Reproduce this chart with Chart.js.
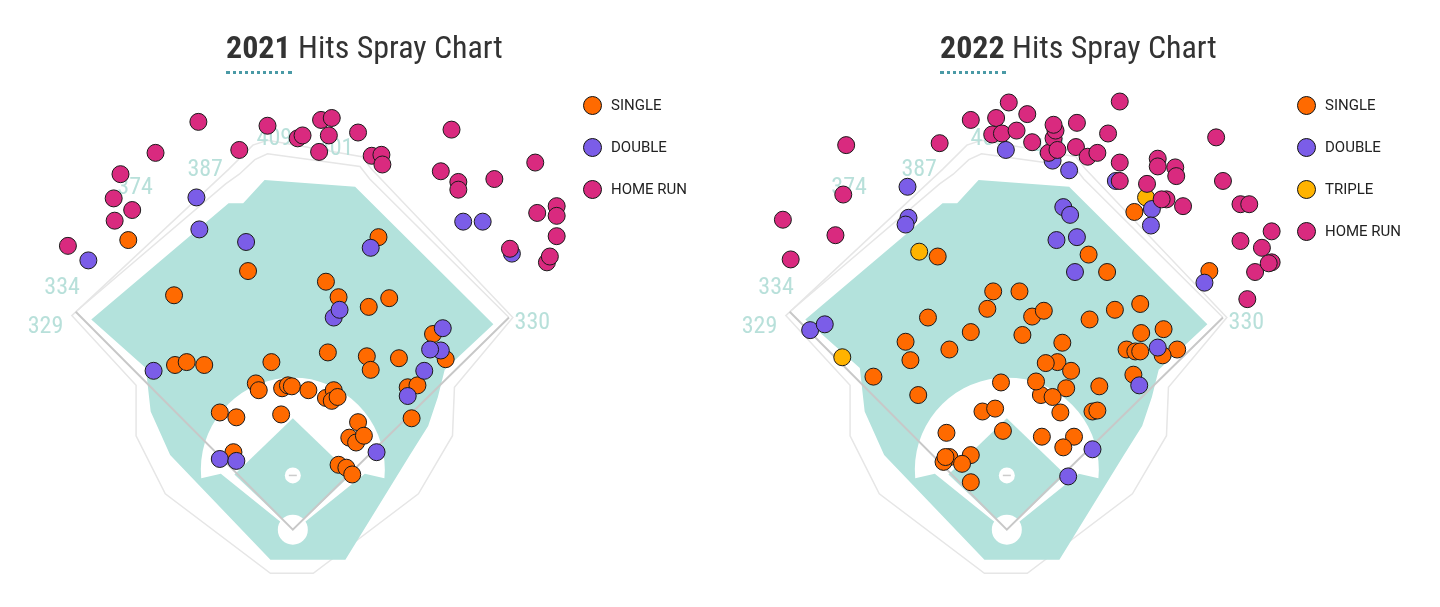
<!DOCTYPE html>
<html><head><meta charset="utf-8">
<script src="https://cdn.jsdelivr.net/npm/chart.js@4"></script>
<style>
body{margin:0;background:#fff;width:1440px;height:607px;position:relative;overflow:hidden;font-family:Roboto,sans-serif}
canvas{position:absolute;top:0}
.title{position:absolute;top:28px;font-family:"Roboto Condensed",Roboto,sans-serif;font-size:32px;color:#333;letter-spacing:0px}
.title b{font-weight:700}
.dots{position:absolute;top:71px;width:66px;border-top:3px dotted #4a9aa6}
.legend{position:absolute;font-size:15px;color:#222}
.legend div{height:42px;display:flex;align-items:center}
.legend span{display:inline-block;width:17px;height:17px;border-radius:50%;border:1px solid #111;margin-right:9px}
</style></head><body>
<canvas id="c21" width="720" height="607" style="left:0"></canvas>
<canvas id="c22" width="720" height="607" style="left:714px"></canvas>
<div class="title" style="left:226px"><b>2021</b> Hits Spray Chart</div>
<div class="dots" style="left:226px"></div>
<div class="title" style="left:940px"><b>2022</b> Hits Spray Chart</div>
<div class="dots" style="left:940px"></div>
<div class="legend" style="left:583px;top:84px">
 <div><span style="background:#ff6a00"></span>SINGLE</div>
 <div><span style="background:#7b5de8"></span>DOUBLE</div>
 <div><span style="background:#d92a7f"></span>HOME RUN</div>
</div>
<div class="legend" style="left:1297px;top:84px">
 <div><span style="background:#ff6a00"></span>SINGLE</div>
 <div><span style="background:#7b5de8"></span>DOUBLE</div>
 <div><span style="background:#ffb300"></span>TRIPLE</div>
 <div><span style="background:#d92a7f"></span>HOME RUN</div>
</div>
<script>
// 2021 hits (page pixel coords)
const singles21 = [[122,238],[245,270],[169,295],[379,235],[325,281],[338,297],[369,307],[390,298],[327,354],[367,358],[371,372],[400,360],[435,335],[448,361],[409,390],[419,388],[413,422],[170,367],[182,364],[200,367],[269,364],[253,386],[256,393],[280,391],[286,388],[290,389],[307,393],[325,401],[333,393],[331,404],[337,400],[216,416],[233,421],[279,418],[358,426],[349,442],[356,447],[364,440],[230,457],[338,470],[346,473],[352,480]];
const doubles21 = [[81,259],[192,194],[195,227],[243,240],[371,246],[333,318],[339,310],[445,329],[443,352],[432,351],[426,373],[409,399],[148,373],[216,464],[233,466],[377,457],[466,219],[486,219],[516,252]];
const homers21 = [[60,244],[108,218],[107,195],[126,207],[114,170],[150,148],[194,116],[236,145],[265,120],[296,133],[301,130],[320,114],[331,112],[328,130],[318,147],[358,127],[372,151],[382,150],[383,160],[454,124],[443,167],[461,178],[461,186],[498,175],[540,158],[562,203],[562,213],[542,210],[562,234],[514,247],[552,261],[555,255]];
// 2022 hits
const singles22 = [[934,255],[1136,209],[1089,253],[1108,271],[991,291],[1018,291],[985,309],[1031,317],[1043,311],[1090,320],[1116,310],[1142,304],[924,318],[968,333],[1021,336],[1062,344],[1057,364],[1071,373],[1045,365],[1066,391],[1040,398],[1052,400],[1060,416],[1093,415],[1098,414],[1100,389],[901,343],[946,351],[906,362],[868,379],[999,385],[1035,384],[1143,334],[1128,351],[1137,353],[1142,353],[1166,330],[1180,351],[1165,357],[1135,377],[914,398],[980,415],[993,412],[943,437],[1001,435],[1041,441],[1074,441],[1063,452],[968,460],[946,462],[940,467],[942,462],[959,469],[968,488],[1213,270]];
const doubles22 = [[803,331],[818,325],[903,183],[904,215],[901,222],[1004,145],[1052,156],[1069,166],[1117,177],[1063,204],[1070,212],[1056,238],[1077,235],[1075,271],[1154,206],[1153,223],[1208,282],[1160,349],[1141,388],[1093,454],[1068,482]];
const triples22 = [[836,359],[915,250],[1148,194]];
const homers22 = [[840,140],[936,138],[775,217],[783,258],[829,233],[837,191],[968,114],[994,112],[1007,96],[990,129],[1000,128],[1015,125],[1031,137],[1048,148],[1053,133],[1055,125],[1053,119],[1057,145],[1026,108],[1076,142],[1088,152],[1098,148],[1077,117],[1109,128],[1121,158],[1121,95],[1121,177],[1160,154],[1160,162],[1178,163],[1179,172],[1169,196],[1186,203],[1220,132],[1227,177],[1245,201],[1254,201],[1277,229],[1267,246],[1260,271],[1245,239],[1277,261],[1252,299],[1274,262],[1164,196],[1149,180]];

// park geometry relative to home plate (dx right, dy down)
const grassShape = [[-207,-217],[-66,-337],[-51,-337],[-29,-361],[64,-354],[206,-212],[156,-165],[149,-137],[139,-107],[119,-75],[54,31],[-23,31],[-126,-77],[-146,-122],[-151,-167]];
const outlineShape = [[-227,-221],[-161,-149],[-161,-97],[-131,-37],[-23,45],[21,45],[129,-37],[164,-97],[166,-147],[226,-219],[81,-372],[71,-385],[-26,-402],[-41,-397],[-66,-372]];
const wallShape = [[-223,-225],[-69,-357],[-55,-367],[-39,-382],[-26,-388],[69,-375],[79,-362],[222,-219]];
const distLabels = [['329',-254,-209],['334',-237,-250],['374',-162,-353],['387',-90,-371],['409',-19,-403],['401',44,-393],['330',246,-213]];
const homeX = {c21:291, c22:1005}, homeY = 537;

const parkPlugin = {
  id:'park',
  beforeDatasetsDraw(chart){
    const ctx = chart.ctx, sx = chart.scales.x, sy = chart.scales.y, hx = chart.options.homeX;
    const P = (d) => [sx.getPixelForValue(hx + d[0]), sy.getPixelForValue(homeY + d[1])];
    const poly = (pts, close) => { ctx.beginPath(); pts.forEach((d,i)=>{const p=P(d); i?ctx.lineTo(p[0],p[1]):ctx.moveTo(p[0],p[1]);}); if(close) ctx.closePath(); };
    ctx.save();
    poly(outlineShape, true); ctx.strokeStyle='#e6e6e6'; ctx.lineWidth=1.5; ctx.stroke();
    poly(wallShape, false); ctx.stroke();
    poly(grassShape, true); ctx.fillStyle='#b3e2dc'; ctx.fill();
    // infield dirt
    const c = P([0,-62]);
    ctx.beginPath(); ctx.arc(c[0], c[1], 92, Math.PI*0.97, Math.PI*2.03);
    const hb = P([0,0]); ctx.lineTo(hb[0]+72, hb[1]-56); ctx.lineTo(hb[0], hb[1]+2); ctx.lineTo(hb[0]-72, hb[1]-56); ctx.closePath();
    ctx.fillStyle='#fff'; ctx.fill();
    poly([[0,0],[60,-57],[0,-115],[-60,-57]], true); ctx.fillStyle='#b3e2dc'; ctx.fill();
    ctx.beginPath(); ctx.arc(hb[0], hb[1], 15, 0, Math.PI*2); ctx.fillStyle='#fff'; ctx.fill();
    const m = P([0,-56]); ctx.beginPath(); ctx.arc(m[0], m[1], 8, 0, Math.PI*2); ctx.fill();
    ctx.strokeStyle='#ccc'; ctx.beginPath(); ctx.moveTo(m[0]-4,m[1]); ctx.lineTo(m[0]+4,m[1]); ctx.stroke();
    // foul lines
    ctx.strokeStyle='#c8c8c8'; ctx.lineWidth=2;
    poly([[-223,-225],[0,0],[222,-219]], false); ctx.stroke();
    // distances
    ctx.fillStyle='#b8e0da'; ctx.font='24px "Roboto Condensed", Roboto, sans-serif'; ctx.textAlign='center'; ctx.textBaseline='middle';
    distLabels.forEach(l => { const p = P([l[1], l[2]]); ctx.fillText(l[0], p[0], p[1]); });
    ctx.restore();
  }
};

const toPts = arr => arr.map(p => ({x:p[0], y:p[1]}));
function ds(label, data, color){ return {label, data:toPts(data), backgroundColor:color, borderColor:'#1a1a1a', borderWidth:1, pointRadius:8.5}; }
function makeChart(id, xmin, sets){
  new Chart(document.getElementById(id), {
    type:'scatter',
    data:{datasets:sets},
    options:{ homeX:homeX[id], responsive:false, animation:false,
      layout:{padding:0},
      plugins:{legend:{display:false}, tooltip:{enabled:false}},
      scales:{ x:{type:'linear',min:xmin,max:xmin+720,display:false},
               y:{type:'linear',min:0,max:607,reverse:true,display:false} } },
    plugins:[parkPlugin]
  });
}
makeChart('c21', 0, [ds('Home Run',homers21,'#d92a7f'), ds('Double',doubles21,'#7b5de8'), ds('Single',singles21,'#ff6a00')]);
makeChart('c22', 714, [ds('Home Run',homers22,'#d92a7f'), ds('Double',doubles22,'#7b5de8'), ds('Triple',triples22,'#ffb300'), ds('Single',singles22,'#ff6a00')]);
</script>
</body></html>
